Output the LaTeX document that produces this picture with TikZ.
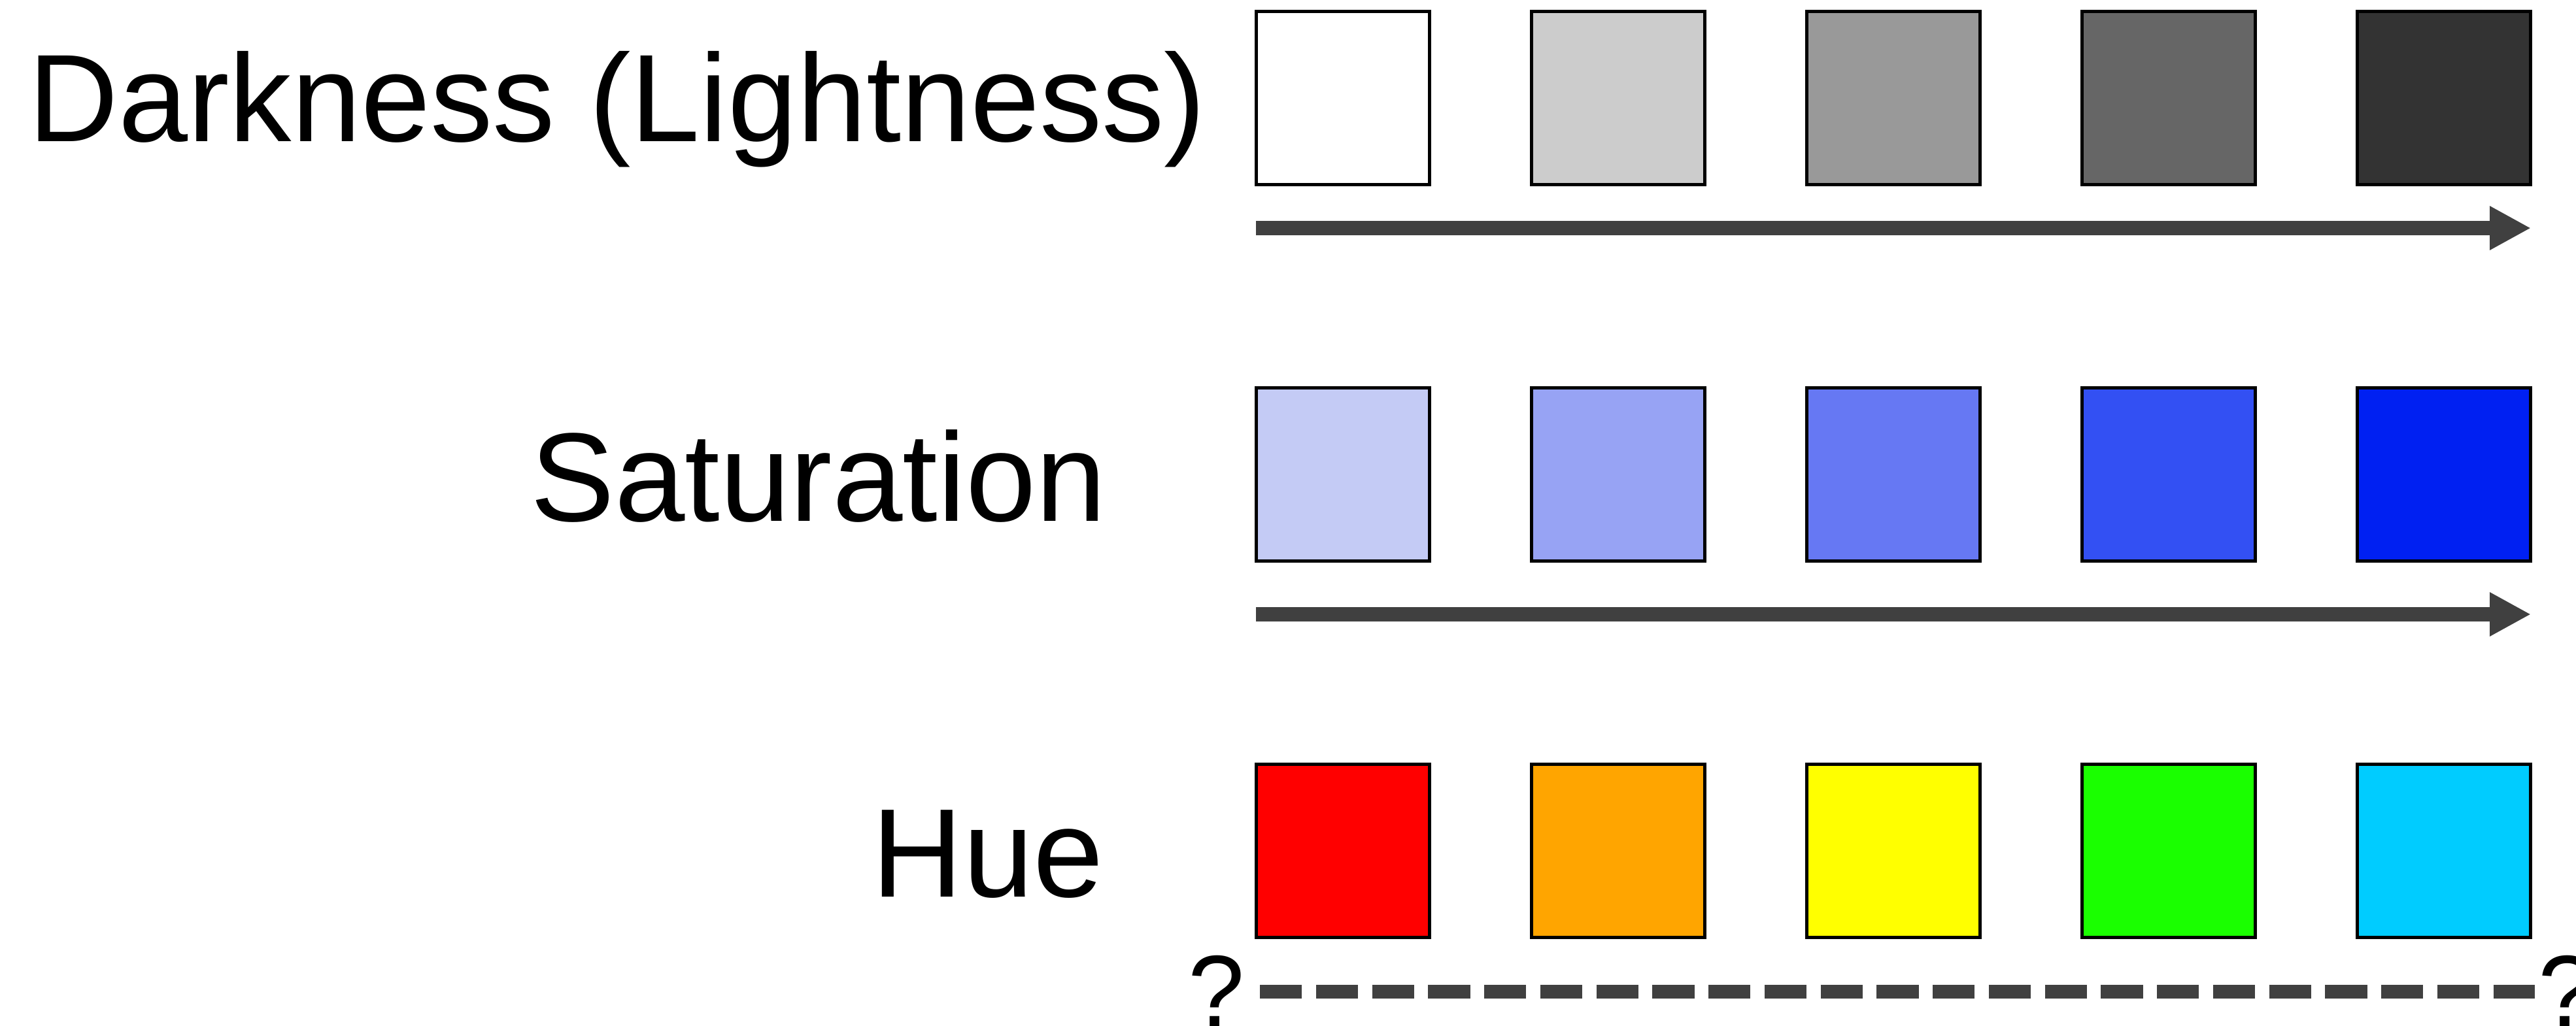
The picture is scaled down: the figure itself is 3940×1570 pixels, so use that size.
\documentclass[tikz,border=0pt]{standalone}
\usepackage{fontspec}
\setmainfont{Liberation Sans}
\usetikzlibrary{arrows.meta}

\definecolor{arrowgray}{HTML}{404040}
% lightness scale
\definecolor{g1}{HTML}{FFFFFF}
\definecolor{g2}{HTML}{CCCCCC}
\definecolor{g3}{HTML}{999999}
\definecolor{g4}{HTML}{666666}
\definecolor{g5}{HTML}{333333}
% saturation scale
\definecolor{s1}{HTML}{C4CBF5}
\definecolor{s2}{HTML}{97A3F4}
\definecolor{s3}{HTML}{6678F3}
\definecolor{s4}{HTML}{3350F3}
\definecolor{s5}{HTML}{0020F2}
% hue scale
\definecolor{h1}{HTML}{FF0000}
\definecolor{h2}{HTML}{FFA500}
\definecolor{h3}{HTML}{FFFF00}
\definecolor{h4}{HTML}{1AFF00}
\definecolor{h5}{HTML}{00CCFF}

\tikzset{
  swatch/.style={draw=black, line width=0.05cm, minimum size=2.65cm, inner sep=0pt, fill=#1},
  rowlabel/.style={anchor=base west, inner sep=0pt, font=\fontsize{54.9}{66}\selectfont},
  qmark/.style={anchor=base west, inner sep=0pt, font=\fontsize{44.1}{53}\selectfont},
  scalearrow/.style={draw=arrowgray, line width=0.22cm, -{Triangle[length=0.63cm, width=0.63cm]}},
  scaledash/.style={draw=arrowgray, line width=0.21cm, dash pattern=on 0.643cm off 0.214cm}
}

\begin{document}
\begin{tikzpicture}[x=0.01cm, y=-0.01cm]
  \useasboundingbox (0,0) rectangle (3940,1570);
  \clip (0,0) rectangle (3940,1570);

  % row labels
  \node[rowlabel, font=\fontsize{54.2}{65}\selectfont] (ldark) at (43,217) {Darkness (Lightness)};
  \node[rowlabel] (lsat) at (811,797) {Saturation};
  \node[rowlabel] (lhue) at (1333,1372) {Hue};

  % swatches
  \foreach \c [count=\i] in {g1,g2,g3,g4,g5}
    \node[swatch=\c] (d\i) at ({2054+421*(\i-1)},150) {};
  \foreach \c [count=\i] in {s1,s2,s3,s4,s5}
    \node[swatch=\c] (s\i) at ({2054+421*(\i-1)},726) {};
  \foreach \c [count=\i] in {h1,h2,h3,h4,h5}
    \node[swatch=\c] (h\i) at ({2054+421*(\i-1)},1302) {};

  % scale ends
  \coordinate (da) at (1921,349);
  \coordinate (db) at (3871,349);
  \coordinate (sa) at (1921,940);
  \coordinate (sb) at (3871,940);
  \coordinate (ha) at (1927,1517);
  \coordinate (hb) at (3877,1517);

  \draw[scalearrow] (da) -- (db);
  \draw[scalearrow] (sa) -- (sb);
  \draw[scaledash] (ha) -- (hb);

  % open ends of the hue scale
  \node[qmark] (qa) at (1817,1570) {?};
  \node[qmark] (qb) at (3882,1570) {?};
\end{tikzpicture}
\end{document}
